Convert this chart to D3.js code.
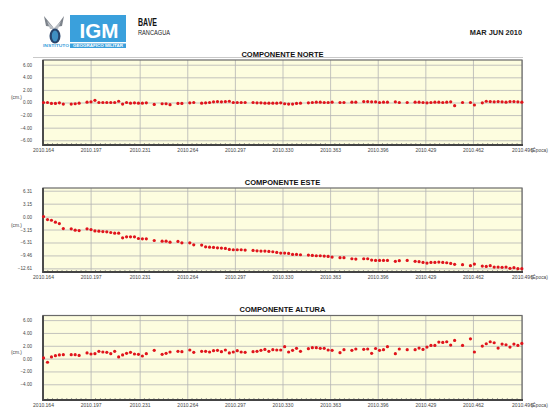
<!DOCTYPE html>
<html lang="es">
<head>
<meta charset="utf-8" />
<title>BAVE - Rancagua</title>
<script src="https://d3js.org/d3.v7.min.js"></script>
<style>
  body { margin: 0; background: #fff; }
  svg { display: block; font-family: "Liberation Sans", Arial, sans-serif; }
  .grid line { stroke: #b4b4b4; stroke-width: 0.8px; }
  .grid .domain { display: none; }
  .lbl text { fill: #444; }
  .lbl .domain, .lbl line { display: none; }
</style>
</head>
<body>
<script>
// dias del año 2010 con solucion (1 mar .. 30 jun)
var days = [60,61,62,63,64,65,67,68,69,71,72,73,74,75,76,77,78,79,80,81,82,83,84,85,86,88,90,91,92,94,95,97,98,
  100,101,102,103,104,105,106,107,108,109,110,111,113,114,115,116,117,118,119,120,121,122,123,124,125,
  127,128,129,130,131,132,133,135,136,138,139,141,142,143,144,145,146,147,149,150,152,
  154,155,156,157,158,159,160,161,162,163,164,166,168,169,171,172,173,174,175,176,177,178,179,180,181];

var norte = [0.0,0.0,-0.15,-0.15,-0.05,-0.25,-0.25,-0.2,-0.1,0.05,0.1,0.35,0.0,0.0,0.0,0.0,0.0,0.2,-0.25,0.0,-0.1,-0.05,-0.1,-0.1,-0.05,-0.3,-0.2,-0.2,-0.35,-0.15,-0.15,-0.05,0.0,
  -0.1,-0.05,0.0,0.1,0.15,0.1,0.15,0.2,0.0,0.0,0.0,0.0,0.0,-0.05,-0.05,-0.1,-0.1,-0.1,-0.1,-0.05,-0.2,-0.25,-0.25,-0.15,-0.1,
  -0.05,0.0,0.05,0.05,0.0,0.0,0.05,0.0,0.0,0.05,0.05,0.15,0.15,0.1,0.1,0.0,0.05,0.05,0.1,0.0,0.0,
  0.05,0.05,0.0,-0.05,0.0,0.05,0.05,0.0,0.05,0.1,-0.5,0.0,0.0,-0.4,-0.05,0.2,0.15,0.1,0.15,0.1,0.05,0.15,0.15,0.1,0.05];

var este = [0,-0.73,-0.89,-1.37,-1.7,-2.91,-2.99,-3.31,-3.4,-2.99,-3.15,-3.48,-3.56,-3.64,-3.72,-3.88,-4.04,-4.04,-5.17,-4.93,-4.93,-4.93,-5.34,-5.42,-5.42,-5.82,-5.98,-5.98,-6.22,-6.06,-6.39,-6.39,-6.87,
  -6.95,-7.36,-7.44,-7.52,-7.6,-7.68,-7.76,-8.0,-8.08,-8.08,-8.08,-8.16,-8.25,-8.33,-8.41,-8.41,-8.49,-8.57,-8.73,-8.89,-8.89,-8.97,-9.22,-9.22,-9.3,
  -9.38,-9.46,-9.54,-9.54,-9.62,-9.7,-9.86,-10.02,-10.02,-10.27,-10.35,-10.27,-10.27,-10.59,-10.67,-10.67,-10.67,-10.67,-10.91,-10.75,-10.67,
  -10.91,-10.99,-11.16,-11.32,-11.16,-11.16,-11.08,-11.16,-11.24,-11.4,-11.64,-11.72,-11.96,-11.56,-12.05,-12.13,-11.96,-12.29,-12.29,-12.37,-12.29,-12.61,-12.45,-12.69,-12.69];

var altura = [0.1,-0.57,0.26,0.46,0.57,0.62,0.62,0.62,0.5,0.88,0.72,0.77,1.13,1.03,0.98,0.77,1.13,0.26,0.57,0.82,0.98,0.72,0.67,0.41,0.77,1.29,0.67,0.82,1.03,1.13,1.08,1.34,0.98,
  1.13,1.13,1.03,1.24,1.29,1.08,1.34,0.88,1.03,1.24,1.03,0.98,1.08,1.13,1.29,1.44,1.13,1.39,1.34,1.34,1.86,1.03,1.29,1.6,1.13,
  1.55,1.7,1.7,1.6,1.6,1.34,1.29,0.93,1.39,1.29,1.5,1.45,1.5,0.82,1.58,1.29,1.39,1.86,0.77,1.5,1.39,
  1.39,1.65,1.44,1.8,2.06,2.06,2.58,2.53,2.63,2.11,2.84,2.06,3.09,1.03,1.96,2.32,2.63,2.47,1.65,2.27,2.16,1.8,2.27,2.06,2.37];

var xTickLabels = ["2010.164","2010.197","2010.231","2010.264","2010.297","2010.330","2010.363","2010.396","2010.429","2010.462","2010.496"];
var norteTicks = [6, 4, 2, 0, -2, -4, -6];
var esteTicks = [6.31, 3.15, 0, -3.15, -6.31, -9.46, -12.61];
var alturaTicks = [6, 4, 2, 0, -2, -4];

var width = 558, height = 419;
var left = 43, right = 522;

var svg = d3.select("body").append("svg")
  .attr("width", width)
  .attr("height", height);

// ---- encabezado ----
var logo = svg.append("g");
// alas + globo
logo.append("path")
  .attr("d", "M44,16 L53,27 L46,26 Z M64,16 L56,27 L62,26 Z")
  .attr("fill", "#7d838b");
logo.append("path")
  .attr("d", "M47,21 L54,28 L61,21 L58,29 L50,29 Z")
  .attr("fill", "#b9bec4");
logo.append("ellipse").attr("cx", 55).attr("cy", 36).attr("rx", 5.5).attr("ry", 7.5).attr("fill", "#28446b");
logo.append("ellipse").attr("cx", 55).attr("cy", 36).attr("rx", 3.2).attr("ry", 5.5).attr("fill", "#3f8fc2");
logo.append("rect").attr("x", 70).attr("y", 15).attr("width", 56).attr("height", 27).attr("fill", "#3aa0dc");
logo.append("text").attr("x", 99).attr("y", 37.5).attr("text-anchor", "middle")
  .style("font-weight", "bold").style("font-size", "21px").attr("fill", "#fff")
  .attr("textLength", 39).attr("lengthAdjust", "spacingAndGlyphs")
  .text("IGM");
logo.append("rect").attr("x", 70).attr("y", 43.5).attr("width", 56).attr("height", 4.5).attr("fill", "#3aa0dc");
logo.append("text").attr("x", 43).attr("y", 47.3).style("font-size", "3.4px").style("font-weight", "bold")
  .attr("fill", "#3aa0dc").attr("textLength", 26).attr("lengthAdjust", "spacingAndGlyphs").text("INSTITUTO");
logo.append("text").attr("x", 98).attr("y", 47.2).attr("text-anchor", "middle").style("font-size", "3.4px").style("font-weight", "bold")
  .attr("fill", "#fff").attr("textLength", 50).attr("lengthAdjust", "spacingAndGlyphs").text("GEOGRÁFICO MILITAR");

svg.append("text").attr("x", 138).attr("y", 26).style("font-weight", "bold").style("font-size", "11px")
  .attr("fill", "#111").attr("textLength", 19).attr("lengthAdjust", "spacingAndGlyphs").text("BAVE");
svg.append("text").attr("x", 138).attr("y", 35).style("font-size", "7px")
  .attr("fill", "#222").attr("textLength", 32).attr("lengthAdjust", "spacingAndGlyphs").text("RANCAGUA");
svg.append("text").attr("x", 522).attr("y", 35).attr("text-anchor", "end").style("font-weight", "bold").style("font-size", "7.4px")
  .attr("fill", "#222").text("MAR JUN 2010");
svg.append("line").attr("x1", 33).attr("x2", 523).attr("y1", 57.5).attr("y2", 57.5)
  .attr("stroke", "#bbb").attr("stroke-width", 0.8);

// ---- paneles ----
var x = d3.scaleLinear()
  .domain([+xTickLabels[0], +xTickLabels[xTickLabels.length - 1]])
  .range([left, right]);
var epochs = days.map(function (d) { return 2010 + d / 365; });
var xTicks = xTickLabels.map(function (t) { return +t; });

var panels = [
  { title: "COMPONENTE NORTE",  values: norte,  ticks: norteTicks,  fmt: d3.format(".2f"), top: 60,    bottom: 145, domain: [-6.75, 6.75] },
  { title: "COMPONENTE ESTE",   values: este,   ticks: esteTicks,   fmt: d3.format(".2f"), top: 188,   bottom: 272, domain: [-13.5, 6.97] },
  { title: "COMPONENTE ALTURA", values: altura, ticks: alturaTicks, fmt: d3.format(".2f"), top: 315.5, bottom: 400, domain: [-6.45, 6.72] }
];

panels.forEach(function (p) {
  var y = d3.scaleLinear().domain(p.domain).range([p.bottom, p.top]);
  var g = svg.append("g");

  g.append("text").attr("x", (left + right) / 2).attr("y", p.top - 3.5)
    .attr("text-anchor", "middle").style("font-weight", "bold").style("font-size", "7.5px")
    .attr("fill", "#111").text(p.title);

  g.append("rect").attr("x", left).attr("y", p.top)
    .attr("width", right - left).attr("height", p.bottom - p.top)
    .attr("fill", "#fdfddf");

  // rejilla
  g.append("g").attr("class", "grid")
    .attr("transform", "translate(" + left + ",0)")
    .call(d3.axisLeft(y).tickValues(p.ticks).tickSize(-(right - left)).tickFormat(""));
  g.append("g").attr("class", "grid")
    .attr("transform", "translate(0," + p.bottom + ")")
    .call(d3.axisBottom(x).tickValues(xTicks).tickSize(-(p.bottom - p.top)).tickFormat(""));

  // marcas menores en el eje x
  var minor = [];
  for (var i = 0; i < xTicks.length - 1; i++) {
    for (var k = 1; k < 10; k++) minor.push(xTicks[i] + (xTicks[i + 1] - xTicks[i]) * k / 10);
  }
  g.append("g").selectAll("line").data(minor).enter().append("line")
    .attr("x1", function (d) { return x(d); }).attr("x2", function (d) { return x(d); })
    .attr("y1", p.bottom).attr("y2", p.bottom - 2)
    .attr("stroke", "#666").attr("stroke-width", 0.6);

  // marco
  g.append("rect").attr("x", left).attr("y", p.top)
    .attr("width", right - left).attr("height", p.bottom - p.top)
    .attr("fill", "none").attr("stroke", "#6a6a6a").attr("stroke-width", 1.2);
  g.append("line").attr("x1", left).attr("x2", left).attr("y1", p.top).attr("y2", p.bottom + 1)
    .attr("stroke", "#444").attr("stroke-width", 1.8);
  g.append("line").attr("x1", left).attr("x2", right + 1).attr("y1", p.bottom).attr("y2", p.bottom)
    .attr("stroke", "#444").attr("stroke-width", 1.8);

  // etiquetas
  g.append("g").attr("class", "lbl")
    .attr("transform", "translate(" + (left - 11) + ",0)")
    .call(d3.axisLeft(y).tickValues(p.ticks).tickSize(0).tickPadding(0).tickFormat(p.fmt))
    .selectAll("text").style("font-size", "4.6px").style("font-family", null);
  g.append("g").attr("class", "lbl")
    .attr("transform", "translate(0," + (p.bottom + 3) + ")")
    .call(d3.axisBottom(x).tickValues(xTicks).tickSize(0).tickPadding(0)
      .tickFormat(function (d, i) { return xTickLabels[i]; }))
    .selectAll("text").style("font-size", "5px").style("font-family", null);

  g.append("text").attr("x", 11).attr("y", (p.top + p.bottom) / 2 - 3.5)
    .style("font-size", "4.8px").attr("fill", "#444").text("(cm.)");
  g.append("text").attr("x", 531).attr("y", p.bottom + 7.2)
    .style("font-size", "4.8px").attr("fill", "#444").text("(Época)");

  // puntos
  g.append("g").selectAll("circle")
    .data(p.values)
    .enter().append("circle")
    .attr("cx", function (d, i) { return x(epochs[i]); })
    .attr("cy", function (d) { return y(d); })
    .attr("r", 1.6)
    .attr("fill", "#e0141c");
});
</script>
</body>
</html>
